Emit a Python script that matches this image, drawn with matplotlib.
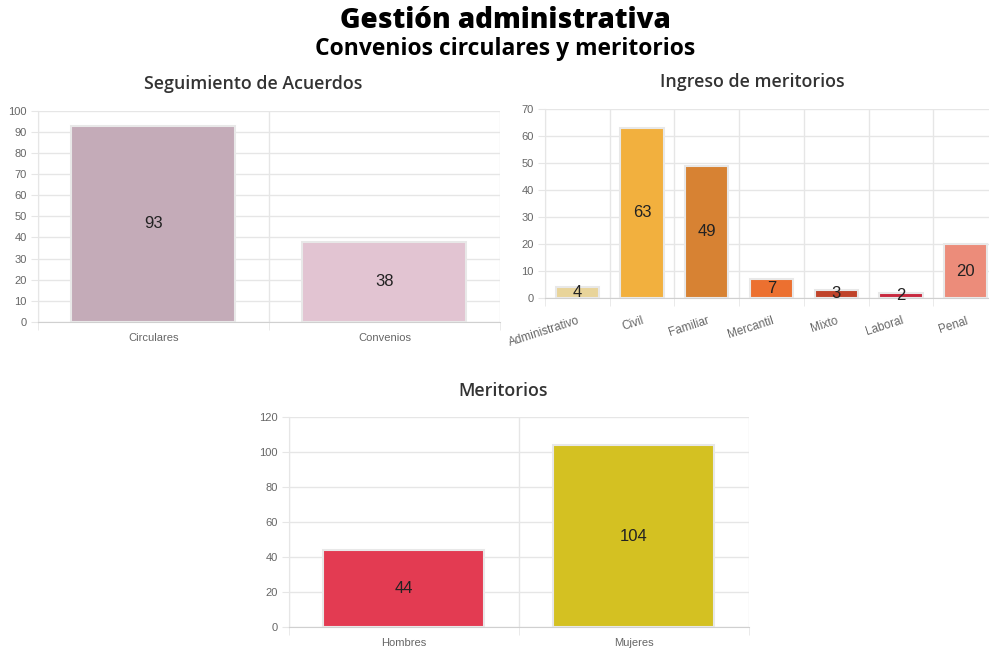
import matplotlib.pyplot as plt
import numpy as np

# datos
acuerdos_cat = ['Circulares', 'Convenios']
acuerdos_val = [93, 38]
acuerdos_col = ['#c4abb8', '#e2c4d2']

ingreso_cat = ['Administrativo', 'Civil', 'Familiar', 'Mercantil', 'Mixto', 'Laboral', 'Penal']
ingreso_val = [4, 63, 49, 7, 3, 2, 20]
ingreso_col = ['#e8d49a', '#f2b03e', '#d78233', '#ec7030', '#c0432a', '#c8283e', '#ec8c7a']

merit_cat = ['Hombres', 'Mujeres']
merit_val = [44, 104]
merit_col = ['#e33b52', '#d4c122']

GRID = '#e6e6e6'
TICK = '#666666'


def bar_panel(ax, cats, vals, cols, ymax, ystep, width, rot=0):
    x = np.arange(len(cats))
    ax.bar(x, vals, width=width, color=cols, edgecolor='#e8e8e8', linewidth=1.5, zorder=3)
    for xi, v in zip(x, vals):
        ax.text(xi, v / 2, str(v), ha='center', va='center', fontsize=12,
                color='#222222', family='Liberation Sans', zorder=4)
    ax.set_xlim(-0.5, len(cats) - 0.5)
    ax.set_ylim(0, ymax)
    ax.set_yticks(np.arange(0, ymax + 1, ystep))
    ax.set_xticks(x)
    if rot:
        ax.set_xticklabels(cats, rotation=rot, ha='right', rotation_mode='anchor')
        ax.tick_params(axis='x', which='major', pad=12, labelsize=8.5)
    else:
        ax.set_xticklabels(cats)
        ax.tick_params(axis='x', which='major', pad=8, labelsize=8)
    ax.set_xticks(np.arange(-0.5, len(cats)), minor=True)
    ax.grid(axis='y', which='major', color=GRID, linewidth=1, zorder=0)
    ax.grid(axis='x', which='minor', color=GRID, linewidth=1, zorder=0)
    ax.tick_params(axis='x', which='major', length=0, labelcolor=TICK)
    ax.tick_params(axis='x', which='minor', length=6, color=GRID)
    ax.tick_params(axis='y', length=5, color=GRID, labelsize=8, labelcolor=TICK, pad=3)
    for lab in ax.get_xticklabels() + ax.get_yticklabels():
        lab.set_family('Liberation Sans')
    for s in ['top', 'right']:
        ax.spines[s].set_visible(False)
    ax.spines['left'].set_color(GRID)
    ax.spines['bottom'].set_color('#d0d0d0')


fig = plt.figure(figsize=(9.89, 6.52), dpi=100)

ax1 = fig.add_axes([0.0384, 0.5061, 0.4671, 0.3241])
bar_panel(ax1, acuerdos_cat, acuerdos_val, acuerdos_col, 100, 10, 0.71)

ax2 = fig.add_axes([0.5511, 0.5429, 0.458, 0.2899])
bar_panel(ax2, ingreso_cat, ingreso_val, ingreso_col, 70, 10, 0.67, rot=18)

ax3 = fig.add_axes([0.2922, 0.0383, 0.4651, 0.3221])
bar_panel(ax3, merit_cat, merit_val, merit_col, 120, 20, 0.70)

fig.text(0.5106, 0.9678, 'Gestión administrativa', ha='center', va='center',
         fontsize=20, fontweight='heavy', family='Open Sans', color='black')
fig.text(0.5106, 0.9250, 'Convenios circulares y meritorios', ha='center', va='center',
         fontsize=16.5, fontweight='bold', family='Open Sans', color='black')

sub = dict(ha='center', va='center', fontsize=12.8, fontweight='semibold',
           family='Open Sans', color='#333333')
fig.text(0.2558, 0.8712, 'Seguimiento de Acuerdos', **sub)
fig.text(0.7604, 0.8742, 'Ingreso de meritorios', **sub)
fig.text(0.5086, 0.4003, 'Meritorios', **sub)

fig.savefig('out.png', dpi=100, facecolor='white')
